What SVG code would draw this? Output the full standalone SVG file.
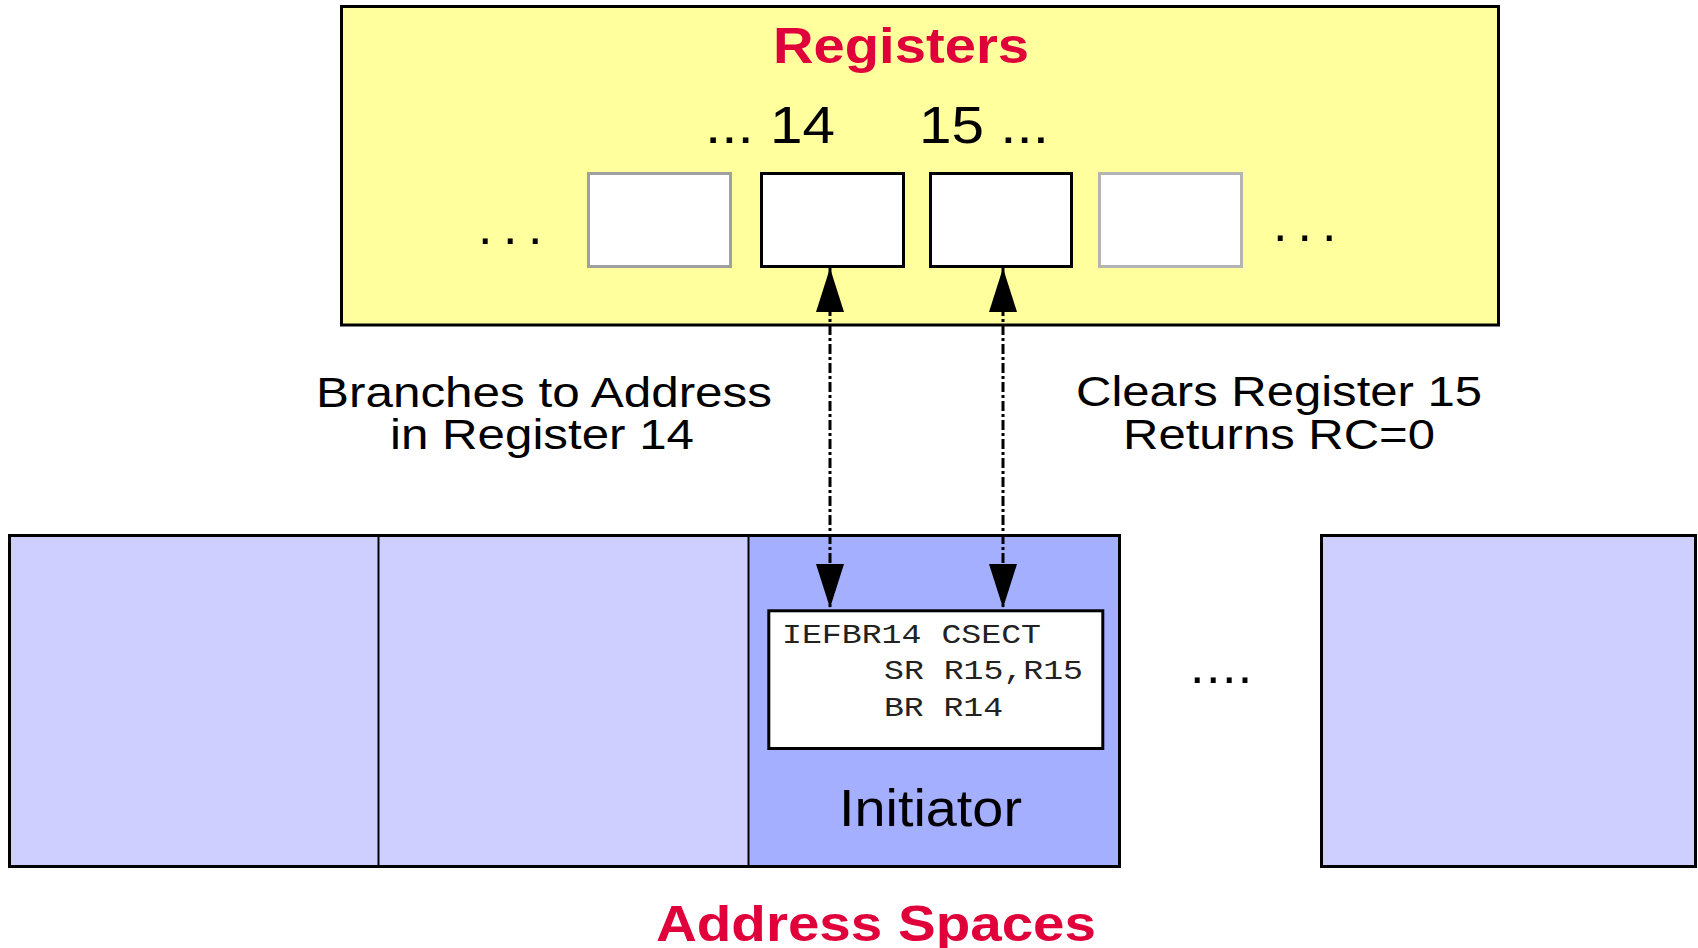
<svg xmlns="http://www.w3.org/2000/svg" width="1698" height="948" viewBox="0 0 1698 948">
  <style>
    .panel { fill: #ffff9e; stroke: #000; stroke-width: 3; }
    .reg { fill: #fff; stroke: #000; stroke-width: 3; }
    .reg-dim1 { fill: #fff; stroke: #a0a0a0; stroke-width: 3; }
    .reg-dim2 { fill: #fff; stroke: #b4b4b4; stroke-width: 3; }
    .as { fill: #cfcfff; }
    .as-init { fill: #a5afff; }
    .border { fill: none; stroke: #000; stroke-width: 3; }
    .divider { stroke: #000; stroke-width: 2; }
    .code-box { fill: #fff; stroke: #000; stroke-width: 3; }
    .title { font-family: "Liberation Sans", Arial, sans-serif; font-weight: bold; font-size: 50px; fill: #e0003a; }
    .lbl { font-family: "Liberation Sans", Arial, sans-serif; font-size: 43px; fill: #000; }
    .num { font-family: "Liberation Sans", Arial, sans-serif; font-size: 52px; fill: #000; }
    .code { font-family: "Liberation Mono", "Courier New", monospace; font-size: 28px; fill: #222; }
    .conn { fill: none; stroke: #000; stroke-width: 3; stroke-dasharray: 10 3 3 3; }
  </style>
  <defs>
    <marker id="head" markerUnits="userSpaceOnUse" markerWidth="44" markerHeight="28" refX="44" refY="14" orient="auto-start-reverse" viewBox="0 0 44 28">
      <path d="M0,0 L44,14 L0,28 z" fill="#000"/>
    </marker>
  </defs>

  <g id="registers">
    <rect class="panel" x="341.5" y="6.5" width="1157" height="318.5"/>
    <text class="title" x="773" y="63" textLength="256" lengthAdjust="spacingAndGlyphs">Registers</text>
    <text class="num" x="705" y="143" textLength="130" lengthAdjust="spacingAndGlyphs">... 14</text>
    <text class="num" x="919" y="143" textLength="130" lengthAdjust="spacingAndGlyphs">15 ...</text>
    <text class="num" x="478" y="244" letter-spacing="10.5">...</text>
    <text class="num" x="1273" y="241" letter-spacing="10">...</text>
  </g>
  <g id="reg-13"><rect class="reg-dim1" x="588.5" y="173.5" width="142" height="93"/></g>
  <g id="reg-14"><rect class="reg" x="761.5" y="173.5" width="142" height="93"/></g>
  <g id="reg-15"><rect class="reg" x="930.5" y="173.5" width="141" height="93"/></g>
  <g id="reg-16"><rect class="reg-dim2" x="1099.5" y="173.5" width="142" height="93"/></g>

  <g id="label-branch">
    <text class="lbl" x="316" y="407" textLength="456" lengthAdjust="spacingAndGlyphs">Branches to Address</text>
    <text class="lbl" x="390" y="449" textLength="304" lengthAdjust="spacingAndGlyphs">in Register 14</text>
  </g>
  <g id="label-clear">
    <text class="lbl" x="1076" y="406" textLength="406" lengthAdjust="spacingAndGlyphs">Clears Register 15</text>
    <text class="lbl" x="1123" y="449" textLength="312" lengthAdjust="spacingAndGlyphs">Returns RC=0</text>
  </g>

  <g id="address-spaces">
    <g id="as-1"><rect class="as" x="9.5" y="535.5" width="369" height="331"/></g>
    <g id="as-2"><rect class="as" x="378.5" y="535.5" width="370" height="331"/></g>
    <g id="as-initiator">
      <rect class="as-init" x="748.5" y="535.5" width="371" height="331"/>
      <text class="num" x="839" y="826" font-size="50" textLength="183" lengthAdjust="spacingAndGlyphs">Initiator</text>
    </g>
    <rect class="border" x="9.5" y="535.5" width="1110" height="331"/>
    <line class="divider" x1="378.5" y1="535.5" x2="378.5" y2="866.5"/>
    <line class="divider" x1="748.5" y1="535.5" x2="748.5" y2="866.5"/>
    <text class="num" x="1190" y="683" letter-spacing="1.5">....</text>
    <g id="as-n"><rect class="as" x="1321.5" y="535.5" width="374" height="331"/><rect class="border" x="1321.5" y="535.5" width="374" height="331"/></g>
    <text class="title" x="656" y="941" font-size="51" textLength="440" lengthAdjust="spacingAndGlyphs">Address Spaces</text>
  </g>

  <g id="iefbr14">
    <rect class="code-box" x="768.8" y="610.8" width="334" height="137.7"/>
    <text class="code" x="782" y="643" textLength="259" lengthAdjust="spacingAndGlyphs">IEFBR14 CSECT</text>
    <text class="code" x="884" y="679" textLength="199" lengthAdjust="spacingAndGlyphs">SR R15,R15</text>
    <text class="code" x="884" y="716" textLength="119" lengthAdjust="spacingAndGlyphs">BR R14</text>
  </g>

  <g id="connectors">
    <line class="conn" x1="830" y1="268" x2="830" y2="608" stroke-width="2.5" marker-start="url(#head)" marker-end="url(#head)"/>
    <line class="conn" x1="1003" y1="268" x2="1003" y2="608" stroke-dasharray="14 3 3 3" marker-start="url(#head)" marker-end="url(#head)"/>
  </g>
</svg>
